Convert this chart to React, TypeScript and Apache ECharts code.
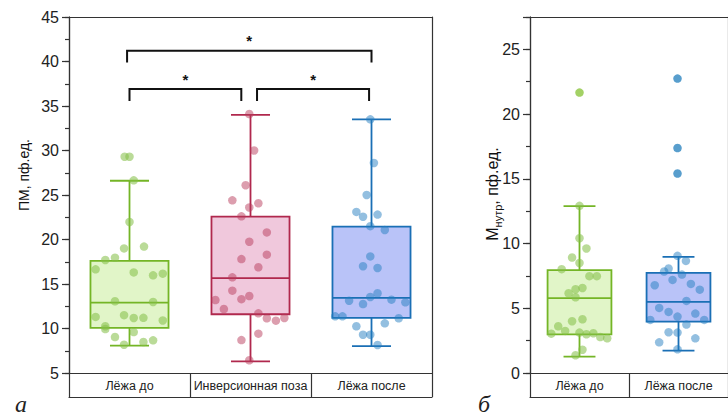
import React, { useEffect, useRef } from "react";
import * as echarts from "echarts";

// ---------- data ----------
const categoriesA = ["Лёжа до", "Инверсионная поза", "Лёжа после"];
const categoriesB = ["Лёжа до", "Лёжа после"];

// box statistics: [min whisker, Q1, median, Q3, max whisker]
const boxBeforeA = [8.07, 10.06, 12.9, 17.6, 26.6];
const boxInversionA = [6.3, 11.6, 15.67, 22.56, 34.0];
const boxAfterA = [8.03, 11.2, 13.43, 21.44, 33.5];
const boxBeforeB = [1.26, 2.99, 5.78, 7.94, 12.89];
const boxAfterB = [1.73, 3.97, 5.49, 7.73, 8.97];

// individual measurements (values) with their horizontal jitter (fraction of category width)
const beforeA = [29.3, 29.3, 26.65, 21.97, 19.0, 19.2, 17.7, 17.95, 16.65, 16.3, 15.97, 16.16, 13.06, 12.98, 11.3, 11.5, 11.18, 11.2, 10.9, 10.25, 9.94, 9.04, 9.6, 8.18, 8.48, 8.67];
const beforeAJitter = [-0.04, 0.0, 0.035, 0.0, -0.045, 0.12, -0.2, -0.12, -0.28, 0.035, 0.195, 0.275, -0.12, 0.195, -0.28, -0.045, 0.035, 0.115, 0.275, -0.2, -0.2, -0.12, 0.035, -0.045, 0.115, 0.195];

const inversionA = [34.1, 30.0, 26.1, 24.4, 24.07, 23.6, 22.6, 20.8, 19.75, 18.3, 17.8, 16.88, 15.75, 14.25, 13.65, 13.3, 13.2, 12.19, 11.7, 11.15, 10.88, 11.18, 9.42, 8.7, 6.43];
const inversionAJitter = [-0.01, 0.03, -0.04, -0.15, 0.065, -0.01, -0.075, 0.135, -0.01, 0.135, -0.075, 0.065, -0.15, -0.15, -0.01, -0.075, -0.29, -0.22, 0.065, 0.135, 0.21, 0.28, 0.065, -0.075, -0.01];

const afterA = [33.5, 28.6, 25.0, 23.1, 22.56, 22.8, 21.5, 21.07, 18.1, 17.0, 16.8, 13.96, 13.54, 13.12, 13.24, 12.94, 12.75, 11.37, 11.37, 11.15, 10.58, 10.25, 9.3, 9.3, 8.15];
const afterAJitter = [-0.01, 0.02, -0.04, -0.125, -0.07, 0.05, -0.01, 0.11, -0.01, -0.07, 0.05, 0.05, -0.01, -0.185, 0.165, 0.28, -0.07, -0.3, -0.24, 0.225, 0.11, -0.125, -0.07, -0.01, 0.05];

const beforeB = [12.91, 10.41, 9.62, 8.92, 8.5, 8.02, 7.48, 7.48, 6.16, 6.47, 6.57, 5.85, 4.0, 4.15, 3.61, 3.25, 3.04, 3.12, 2.99, 3.07, 2.78, 2.68, 1.8, 1.37];
const beforeBJitter = [0, 0, 0.07, -0.075, 0, -0.18, 0.1, 0.175, -0.11, -0.04, 0.03, -0.04, -0.075, 0.03, -0.215, -0.145, -0.285, 0, 0.07, 0.14, 0.21, 0.28, 0.03, -0.04];
const beforeBOutliers = [21.66];

const afterB = [9.05, 8.66, 8.07, 7.84, 7.6, 7.19, 6.78, 6.88, 6.44, 5.57, 5.03, 4.72, 4.59, 4.36, 4.1, 4.1, 3.74, 3.15, 3.12, 2.37, 2.68, 1.83];
const afterBJitter = [-0.01, 0.075, -0.1, -0.145, 0.035, -0.06, -0.24, 0.125, 0.215, 0.08, -0.195, -0.1, 0.17, -0.01, -0.285, 0.26, 0.08, -0.1, -0.01, -0.195, 0.17, -0.01];
const afterBOutliers = [22.74, 17.38, 15.41];

// significance brackets (panel а): [from category, to category, bar value, leg end value]
const bracketFrom = [-0.02, 0.0, 1.054];
const bracketTo = [2.0, 0.924, 1.98];
const bracketBar = [41.2, 36.9, 36.9];
const bracketLeg = [39.9, 35.56, 35.56];
const bracketLabels = ["*", "*", "*"];

// ---------- styles ----------
const GREEN = { stroke: "#74b526", fill: "#e1f5c8", dot: "rgba(132,190,72,0.7)", solid: "#8cc63f" };
const RED = { stroke: "#b0284d", fill: "#f0c8dc", dot: "rgba(184,58,92,0.62)", solid: "#b83a5c" };
const BLUE = { stroke: "#1a6fb5", fill: "#b9c3f8", dot: "rgba(36,125,192,0.62)", solid: "#2e86c1" };
const FONT = "Liberation Sans, Arial, sans-serif";
const FRAME = "#333";

function makeBoxRenderer(colors: any[]) {
  return (params: any, api: any) => {
    const idx = api.value(0);
    const lo = api.coord([idx, api.value(1)]);
    const q1 = api.coord([idx, api.value(2)]);
    const med = api.coord([idx, api.value(3)]);
    const q3 = api.coord([idx, api.value(4)]);
    const hi = api.coord([idx, api.value(5)]);
    const band = api.size([1, 0])[0];
    const w = band * 0.645;
    const cx = lo[0];
    const c = colors[params.dataIndex];
    const ls = { stroke: c.stroke, lineWidth: 1.8 };
    return {
      type: "group",
      children: [
        { type: "line", shape: { x1: cx, y1: q3[1], x2: cx, y2: hi[1] }, style: ls },
        { type: "line", shape: { x1: cx, y1: q1[1], x2: cx, y2: lo[1] }, style: ls },
        { type: "line", shape: { x1: cx - w / 4, y1: hi[1], x2: cx + w / 4, y2: hi[1] }, style: ls },
        { type: "line", shape: { x1: cx - w / 4, y1: lo[1], x2: cx + w / 4, y2: lo[1] }, style: ls },
        { type: "rect", shape: { x: cx - w / 2, y: q3[1], width: w, height: q1[1] - q3[1] }, style: { fill: c.fill, stroke: c.stroke, lineWidth: 1.8 } },
        { type: "line", shape: { x1: cx - w / 2, y1: med[1], x2: cx + w / 2, y2: med[1] }, style: ls },
      ],
    };
  };
}

function jitterData(idx: number, vals: number[], jit: number[]) {
  return vals.map((v, i) => [idx + jit[i], v]);
}

function scatter(xi: number, yi: number, data: number[][], color: string) {
  return {
    type: "scatter",
    xAxisIndex: xi,
    yAxisIndex: yi,
    data,
    symbolSize: 8.5,
    itemStyle: { color },
    silent: true,
    z: 5,
  };
}

function frameAxes(gridIndex: number, cats: string[], min: number, max: number) {
  const n = cats.length;
  const x = [
    {
      type: "category",
      gridIndex,
      data: cats,
      position: "bottom",
      axisLine: { show: true, lineStyle: { color: FRAME, width: 1.2 } },
      axisTick: { show: true, length: 24, alignWithLabel: false, interval: 0, lineStyle: { color: FRAME, width: 1.2 } },
      axisLabel: { interval: 0, fontSize: 12.5, color: "#222", fontFamily: FONT, margin: 6 },
      splitLine: { show: false },
    },
    {
      type: "value",
      gridIndex,
      position: "top",
      min: -0.5,
      max: n - 0.5,
      axisLine: { show: true, onZero: false, lineStyle: { color: FRAME, width: 1.2 } },
      axisTick: { show: false },
      axisLabel: { show: false },
      splitLine: { show: false },
    },
    {
      type: "value",
      gridIndex,
      position: "bottom",
      offset: 24,
      min: 0,
      max: 1,
      axisLine: { show: true, onZero: false, lineStyle: { color: FRAME, width: 1.2 } },
      axisTick: { show: false },
      axisLabel: { show: false },
      splitLine: { show: false },
    },
  ];
  const y = [
    {
      type: "value",
      gridIndex,
      position: "left",
      min,
      max,
      interval: 2.5,
      axisLine: { show: true, onZero: false, lineStyle: { color: FRAME, width: 1.2 } },
      axisTick: { show: true, length: 4, lineStyle: { color: FRAME, width: 1.2 } },
      axisLabel: { show: false },
      splitLine: { show: false },
    },
    {
      type: "value",
      gridIndex,
      position: "left",
      min,
      max,
      interval: 5,
      axisLine: { show: true, onZero: false, lineStyle: { color: FRAME, width: 1.2 } },
      axisTick: { show: true, length: 7, lineStyle: { color: FRAME, width: 1.2 } },
      axisLabel: {
        fontSize: 16,
        color: "#222",
        fontFamily: FONT,
        margin: 10,
        formatter: (v: number) => (v % 5 === 0 ? String(v) : ""),
      },
      splitLine: { show: false },
    },
    {
      type: "value",
      gridIndex,
      position: "right",
      min,
      max,
      axisLine: { show: true, onZero: false, lineStyle: { color: FRAME, width: 1.2 } },
      axisTick: { show: false },
      axisLabel: { show: false },
      splitLine: { show: false },
    },
  ];
  return { x, y };
}

export default function App() {
  const ref = useRef<HTMLDivElement>(null);
  useEffect(() => {
    if (!ref.current) return;
    const chart = echarts.init(ref.current, undefined, { renderer: "svg" });
    const a = frameAxes(0, categoriesA, 5, 45);
    const b = frameAxes(1, categoriesB, 0, 27.5);

    const bracketData = bracketFrom.map((f, i) => [f, bracketTo[i], bracketBar[i], bracketLeg[i], i]);

    const option: any = {
      animation: false,
      textStyle: { fontFamily: FONT },
      grid: [
        { left: 69, top: 17, width: 363, height: 356 },
        { left: 530, top: 17, width: 208, height: 356 },
      ],
      xAxis: [...a.x, ...b.x],
      yAxis: [...a.y, ...b.y],
      series: [
        {
          type: "custom",
          xAxisIndex: 1,
          yAxisIndex: 1,
          renderItem: makeBoxRenderer([GREEN, RED, BLUE]),
          encode: { x: 0, y: [1, 2, 3, 4, 5] },
          data: [
            [0, ...boxBeforeA],
            [1, ...boxInversionA],
            [2, ...boxAfterA],
          ],
          silent: true,
          z: 2,
        },
        scatter(1, 1, jitterData(0, beforeA, beforeAJitter), GREEN.dot),
        scatter(1, 1, jitterData(1, inversionA, inversionAJitter), RED.dot),
        scatter(1, 1, jitterData(2, afterA, afterAJitter), BLUE.dot),
        {
          type: "custom",
          xAxisIndex: 1,
          yAxisIndex: 1,
          encode: { x: [0, 1], y: [2, 3] },
          data: bracketData,
          silent: true,
          z: 6,
          renderItem: (params: any, api: any) => {
            const x1 = api.value(0);
            const x2 = api.value(1);
            const p1 = api.coord([x1, api.value(3)]);
            const p2 = api.coord([x1, api.value(2)]);
            const p3 = api.coord([x2, api.value(2)]);
            const p4 = api.coord([x2, api.value(3)]);
            const label = bracketLabels[params.dataIndex];
            return {
              type: "group",
              children: [
                { type: "polyline", shape: { points: [p1, p2, p3, p4] }, style: { stroke: "#111", lineWidth: 2, fill: "none" } },
                {
                  type: "text",
                  x: (p2[0] + p3[0]) / 2,
                  y: p2[1] - 10,
                  style: { text: label, fontSize: 15, fontWeight: "bold", fill: "#111", fontFamily: FONT, align: "center", verticalAlign: "middle" },
                },
              ],
            };
          },
        },
        {
          type: "custom",
          xAxisIndex: 4,
          yAxisIndex: 4,
          renderItem: makeBoxRenderer([GREEN, BLUE]),
          encode: { x: 0, y: [1, 2, 3, 4, 5] },
          data: [
            [0, ...boxBeforeB],
            [1, ...boxAfterB],
          ],
          silent: true,
          z: 2,
        },
        scatter(4, 4, jitterData(0, beforeB, beforeBJitter), GREEN.dot),
        scatter(4, 4, jitterData(1, afterB, afterBJitter), BLUE.dot),
        scatter(4, 4, beforeBOutliers.map((v) => [0, v]), GREEN.solid),
        scatter(4, 4, afterBOutliers.map((v) => [0.99, v]), BLUE.solid),
      ],
      graphic: [
        {
          type: "text",
          x: 24,
          y: 175,
          rotation: Math.PI / 2,
          style: { text: "ПМ, пф.ед.", fontSize: 14, fill: "#111", fontFamily: FONT, align: "center", verticalAlign: "middle" },
        },
        {
          type: "text",
          x: 492,
          y: 194,
          rotation: Math.PI / 2,
          style: {
            text: "{a|М}{b|нутр}{a|, пф.ед.}",
            fill: "#111",
            fontFamily: FONT,
            align: "center",
            verticalAlign: "middle",
            rich: {
              a: { fontSize: 16, lineHeight: 22, verticalAlign: "middle", fill: "#111", fontFamily: FONT },
              b: { fontSize: 11, lineHeight: 11, verticalAlign: "bottom", fill: "#111", fontFamily: FONT },
            },
          },
        },
        {
          type: "text",
          x: 21,
          y: 404,
          style: { text: "а", fontSize: 24, fontStyle: "italic", fill: "#222", fontFamily: "Liberation Serif, serif", align: "center", verticalAlign: "middle" },
        },
        {
          type: "text",
          x: 484,
          y: 404,
          style: { text: "б", fontSize: 24, fontStyle: "italic", fill: "#222", fontFamily: "Liberation Serif, serif", align: "center", verticalAlign: "middle" },
        },
      ],
    };
    chart.setOption(option);
    return () => chart.dispose();
  }, []);
  return <div ref={ref} style={{ position: "absolute", left: 0, top: 0, width: 728, height: 420 }} />;
}
